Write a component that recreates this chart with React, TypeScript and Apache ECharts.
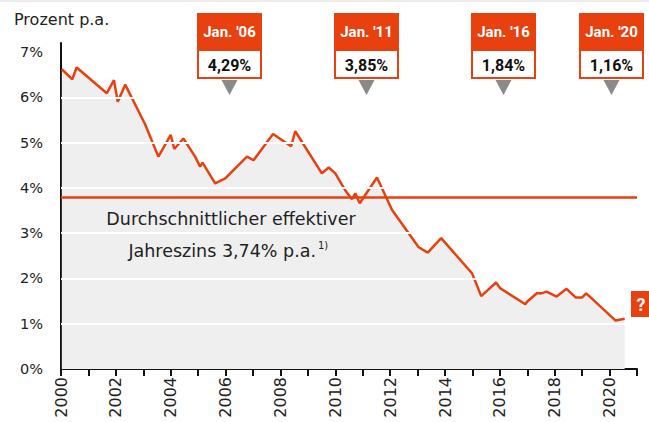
import React, { useEffect, useRef } from "react";
import * as echarts from "echarts";

// Data (year as decimal, percent p.a.)
const years = [
  2000.03, 2000.41, 2000.57, 2001.67, 2001.93, 2002.07, 2002.34, 2003.07, 2003.55, 2004.0,
  2004.13, 2004.46, 2004.89, 2005.07, 2005.16, 2005.62, 2005.99, 2006.78, 2007.02, 2007.73,
  2008.39, 2008.54, 2009.51, 2009.76, 2010.0, 2010.36, 2010.61, 2010.73, 2010.89, 2011.52,
  2012.07, 2013.04, 2013.37, 2013.86, 2014.99, 2015.32, 2015.86, 2016.02, 2016.93, 2017.0,
  2017.36, 2017.51, 2017.7, 2018.07, 2018.43, 2018.76, 2019.0, 2019.15, 2020.22, 2020.55,
];
const rates = [
  6.62, 6.4, 6.66, 6.09, 6.38, 5.9, 6.28, 5.4, 4.69, 5.17,
  4.86, 5.09, 4.69, 4.47, 4.56, 4.1, 4.21, 4.69, 4.61, 5.19,
  4.92, 5.25, 4.32, 4.45, 4.32, 3.95, 3.75, 3.88, 3.66, 4.23,
  3.51, 2.69, 2.57, 2.89, 2.11, 1.61, 1.91, 1.78, 1.43, 1.49,
  1.68, 1.67, 1.71, 1.6, 1.77, 1.58, 1.58, 1.67, 1.07, 1.11,
];
const averageLineValue = 3.8;
const gridValues = [1, 2, 3, 4, 5, 6];
const calloutLabels = ["Jan. '06", "Jan. '11", "Jan. '16", "Jan. '20"];
const calloutValues = ["4,29%", "3,85%", "1,84%", "1,16%"];

const ORANGE = "#e8410f";
const FONT = "'DejaVu Sans'";
const BOLD_FONT = "Roboto";
const TEXT = "#222222";

export default function App() {
  const ref = useRef<HTMLDivElement>(null);

  useEffect(() => {
    if (!ref.current) return;
    const chart = echarts.init(ref.current, undefined, { renderer: "svg" });
    const points = years.map((y, i) => [y, rates[i]]);

    const boxLefts = [197, 334, 471, 579];
    const callouts: any[] = [];
    boxLefts.forEach((left, i) => {
      const w = 65;
      const cx = left + w / 2;
      callouts.push(
        { type: "rect", shape: { x: left, y: 13, width: w, height: 38 }, style: { fill: ORANGE } },
        { type: "rect", shape: { x: left + 1, y: 50, width: w - 2, height: 28 }, style: { fill: "#fff", stroke: ORANGE, lineWidth: 2 } },
        { type: "polygon", shape: { points: [[cx - 8, 80], [cx + 8, 80], [cx, 95]] }, style: { fill: "#8a8a8a" } },
        { type: "text", x: cx, y: 32, style: { text: calloutLabels[i], fill: "#fff", font: `bold 15px ${BOLD_FONT}`, align: "center", verticalAlign: "middle" } },
        { type: "text", x: cx, y: 65, style: { text: calloutValues[i], fill: "#111", font: `bold 16px ${BOLD_FONT}`, align: "center", verticalAlign: "middle" } }
      );
    });

    chart.setOption({
      animation: false,
      grid: { left: 61, right: 12, top: 43, bottom: 53, containLabel: false },
      xAxis: {
        type: "value",
        min: 2000,
        max: 2021,
        interval: 1,
        axisLine: { show: true, onZero: false, lineStyle: { color: "#111", width: 2 } },
        axisTick: { show: true, length: 7, lineStyle: { color: "#111", width: 2 } },
        splitLine: { show: false },
        axisLabel: {
          rotate: 90,
          margin: 8,
          fontSize: 16,
          fontFamily: FONT,
          color: TEXT,
          formatter: (v: number) => (Math.round(v) % 2 === 0 && v <= 2020 ? String(Math.round(v)) : ""),
        },
      },
      yAxis: {
        type: "value",
        min: 0,
        max: 7.2,
        interval: 1,
        axisLine: { show: true, lineStyle: { color: "#111", width: 2 } },
        axisTick: { show: false },
        splitLine: { show: false },
        axisLabel: {
          margin: 18,
          fontSize: 14.5,
          fontFamily: FONT,
          color: TEXT,
          formatter: (v: number) => (Math.abs(v - Math.round(v)) < 1e-6 ? `${Math.round(v)}%` : ""),
        },
      },
      series: [
        {
          type: "line",
          z: 1,
          data: points,
          symbol: "none",
          lineStyle: { width: 0, opacity: 0 },
          areaStyle: { color: "#efefef", opacity: 1 },
          silent: true,
        },
        {
          type: "line",
          z: 2,
          data: [],
          symbol: "none",
          silent: true,
          markLine: {
            silent: true,
            symbol: "none",
            label: { show: false },
            lineStyle: { color: "#ffffff", width: 2, type: "solid" },
            data: gridValues.map((v) => ({ yAxis: v })),
          },
        },
        {
          type: "line",
          z: 3,
          data: points,
          symbol: "none",
          lineStyle: { color: ORANGE, width: 2.5 },
          markLine: {
            silent: true,
            symbol: "none",
            label: { show: false },
            lineStyle: { color: ORANGE, width: 2.5, type: "solid" },
            data: [{ yAxis: averageLineValue }],
          },
        },
      ],
      graphic: [
        { type: "rect", shape: { x: 0, y: 0, width: 649, height: 2 }, style: { fill: "#ececec" } },
        { type: "text", x: 14, y: 19, style: { text: "Prozent p.a.", fill: TEXT, font: `16px ${FONT}`, verticalAlign: "middle" } },
        { type: "text", x: 231, y: 219, style: { text: "Durchschnittlicher effektiver", fill: TEXT, font: `17.5px ${FONT}`, align: "center", verticalAlign: "middle" }, z: 10 },
        { type: "text", x: 316, y: 251, style: { text: "Jahreszins 3,74% p.a.", fill: TEXT, font: `17.5px ${FONT}`, align: "right", verticalAlign: "middle" }, z: 10 },
        { type: "text", x: 318, y: 245, style: { text: "1)", fill: TEXT, font: `10px ${FONT}`, align: "left", verticalAlign: "middle" }, z: 10 },
        { type: "rect", shape: { x: 631, y: 291, width: 20, height: 26 }, style: { fill: ORANGE }, z: 10 },
        { type: "text", x: 641, y: 304, style: { text: "?", fill: "#fff", font: `bold 18px ${BOLD_FONT}`, align: "center", verticalAlign: "middle" }, z: 11 },
        ...callouts,
      ],
    });

    return () => chart.dispose();
  }, []);

  return <div ref={ref} style={{ position: "absolute", left: 0, top: 0, width: 649, height: 422 }} />;
}
